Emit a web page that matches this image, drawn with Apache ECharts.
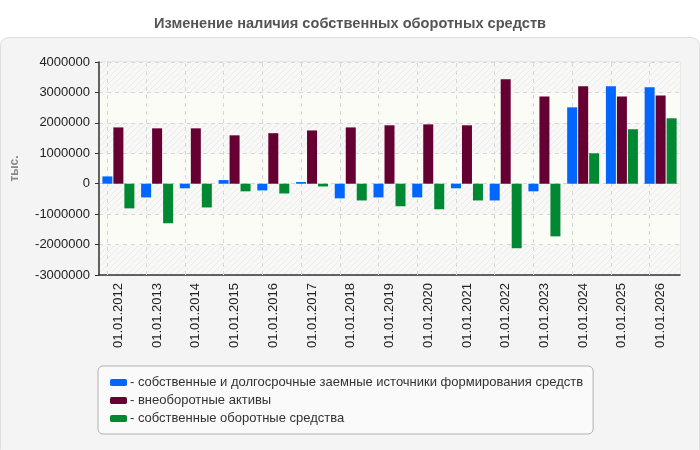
<!DOCTYPE html>
<html>
<head>
<meta charset="utf-8">
<script src="https://cdn.jsdelivr.net/npm/echarts@6/dist/echarts.min.js"></script>
<style>
  html, body { margin: 0; padding: 0; background: #fff; }
  #chart { width: 700px; height: 450px; }
</style>
</head>
<body>
<div id="chart"></div>
<script>
var dates = ['01.01.2012', '01.01.2013', '01.01.2014', '01.01.2015', '01.01.2016',
    '01.01.2017', '01.01.2018', '01.01.2019', '01.01.2020', '01.01.2021',
    '01.01.2022', '01.01.2023', '01.01.2024', '01.01.2025', '01.01.2026'];
var ownAndLongTerm = [240000, -450000, -150000, 120000, -220000, 55000, -480000, -450000,
    -450000, -150000, -550000, -250000, 2510000, 3200000, 3170000];
var nonCurrentAssets = [1850000, 1820000, 1820000, 1590000, 1660000, 1750000, 1850000, 1920000,
    1950000, 1920000, 3430000, 2870000, 3200000, 2870000, 2900000];
var ownWorkingCapital = [-810000, -1300000, -780000, -250000, -320000, -90000, -550000, -740000,
    -840000, -550000, -2120000, -1730000, 1000000, 1790000, 2150000];
var seriesNames = ['собственные и долгосрочные заемные источники формирования средств',
    'внеоборотные активы', 'собственные оборотные средства'];
var colors = ['#0066ff', '#660033', '#008833'];

// diagonal hatch for the plot bands
var hatch = document.createElement('canvas');
hatch.width = 6;
hatch.height = 6;
var hc = hatch.getContext('2d');
hc.fillStyle = '#f8f8f6';
hc.fillRect(0, 0, 6, 6);
hc.strokeStyle = '#ebebeb';
hc.lineWidth = 1;
hc.beginPath();
hc.moveTo(0, 6); hc.lineTo(6, 0);
hc.moveTo(-3, 3); hc.lineTo(3, -3);
hc.moveTo(3, 9); hc.lineTo(9, 3);
hc.stroke();

var myChart = echarts.init(document.getElementById('chart'));
var font = 'Liberation Sans, Arial, sans-serif';
var dashed = { color: '#d8d8d8', type: [4, 4], width: 1 };

// vertical grid lines sit on category centres, not boundaries
var centreLines = dates.map(function (d) { return { xAxis: d }; });

var option = {
    animation: false,
    textStyle: { fontFamily: font },
    color: colors,
    title: {
        text: 'Изменение наличия собственных оборотных средств',
        left: 'center',
        top: 11,
        textStyle: { fontSize: 14.6, fontWeight: 'bold', color: '#555', fontFamily: font }
    },
    graphic: [{
        type: 'rect',
        shape: { x: 0.5, y: 37.5, width: 699, height: 420, r: 8 },
        style: { fill: '#f4f4f4', stroke: '#dddddd', lineWidth: 1 },
        z: -10
    }],
    legend: {
        orient: 'vertical',
        left: 98,
        top: 366,
        itemWidth: 17,
        itemHeight: 7,
        itemGap: 5,
        padding: [10, 10, 9, 12],
        backgroundColor: '#fafafa',
        borderColor: '#b0b0b0',
        borderWidth: 1,
        borderRadius: 5,
        icon: 'roundRect',
        formatter: function (name) { return '- ' + name; },
        textStyle: { fontSize: 13, color: '#333', padding: [0, 0, 0, -2] },
        data: seriesNames
    },
    grid: {
        left: 99,
        right: 20,
        top: 62,
        height: 213,
        show: true,
        borderColor: '#dddddd',
        borderWidth: 1
    },
    xAxis: {
        type: 'category',
        data: dates,
        axisLine: { onZero: false, lineStyle: { color: '#333', width: 1.5 } },
        axisTick: { alignWithLabel: true, length: 5, lineStyle: { color: '#333' } },
        axisLabel: { rotate: 90, fontSize: 13, color: '#222', margin: 8 },
        splitLine: { show: false }
    },
    yAxis: {
        type: 'value',
        min: -3000000,
        max: 4000000,
        interval: 1000000,
        name: 'тыс.',
        nameLocation: 'middle',
        nameRotate: 90,
        nameGap: 78,
        nameTextStyle: { fontSize: 12, fontWeight: 'bold', color: '#888' },
        axisLine: { show: true, lineStyle: { color: '#333', width: 1.5 } },
        axisTick: { show: true, length: 4, lineStyle: { color: '#333' } },
        axisLabel: { fontSize: 13, color: '#222', margin: 9, formatter: function (v) { return String(v); } },
        splitLine: { show: true, lineStyle: dashed },
        splitArea: {
            show: true,
            areaStyle: { color: [{ image: hatch, repeat: 'repeat' }, '#fcfcf7'] }
        }
    },
    series: [
        {
            name: seriesNames[0], type: 'bar', data: ownAndLongTerm, barWidth: 10, barGap: '10%',
            markLine: {
                silent: true,
                z: 1,
                symbol: 'none',
                label: { show: false },
                lineStyle: dashed,
                emphasis: { disabled: true },
                data: centreLines
            }
        },
        { name: seriesNames[1], type: 'bar', data: nonCurrentAssets, barWidth: 10, barGap: '10%' },
        { name: seriesNames[2], type: 'bar', data: ownWorkingCapital, barWidth: 10, barGap: '10%' }
    ]
};
myChart.setOption(option);
</script>
</body>
</html>
